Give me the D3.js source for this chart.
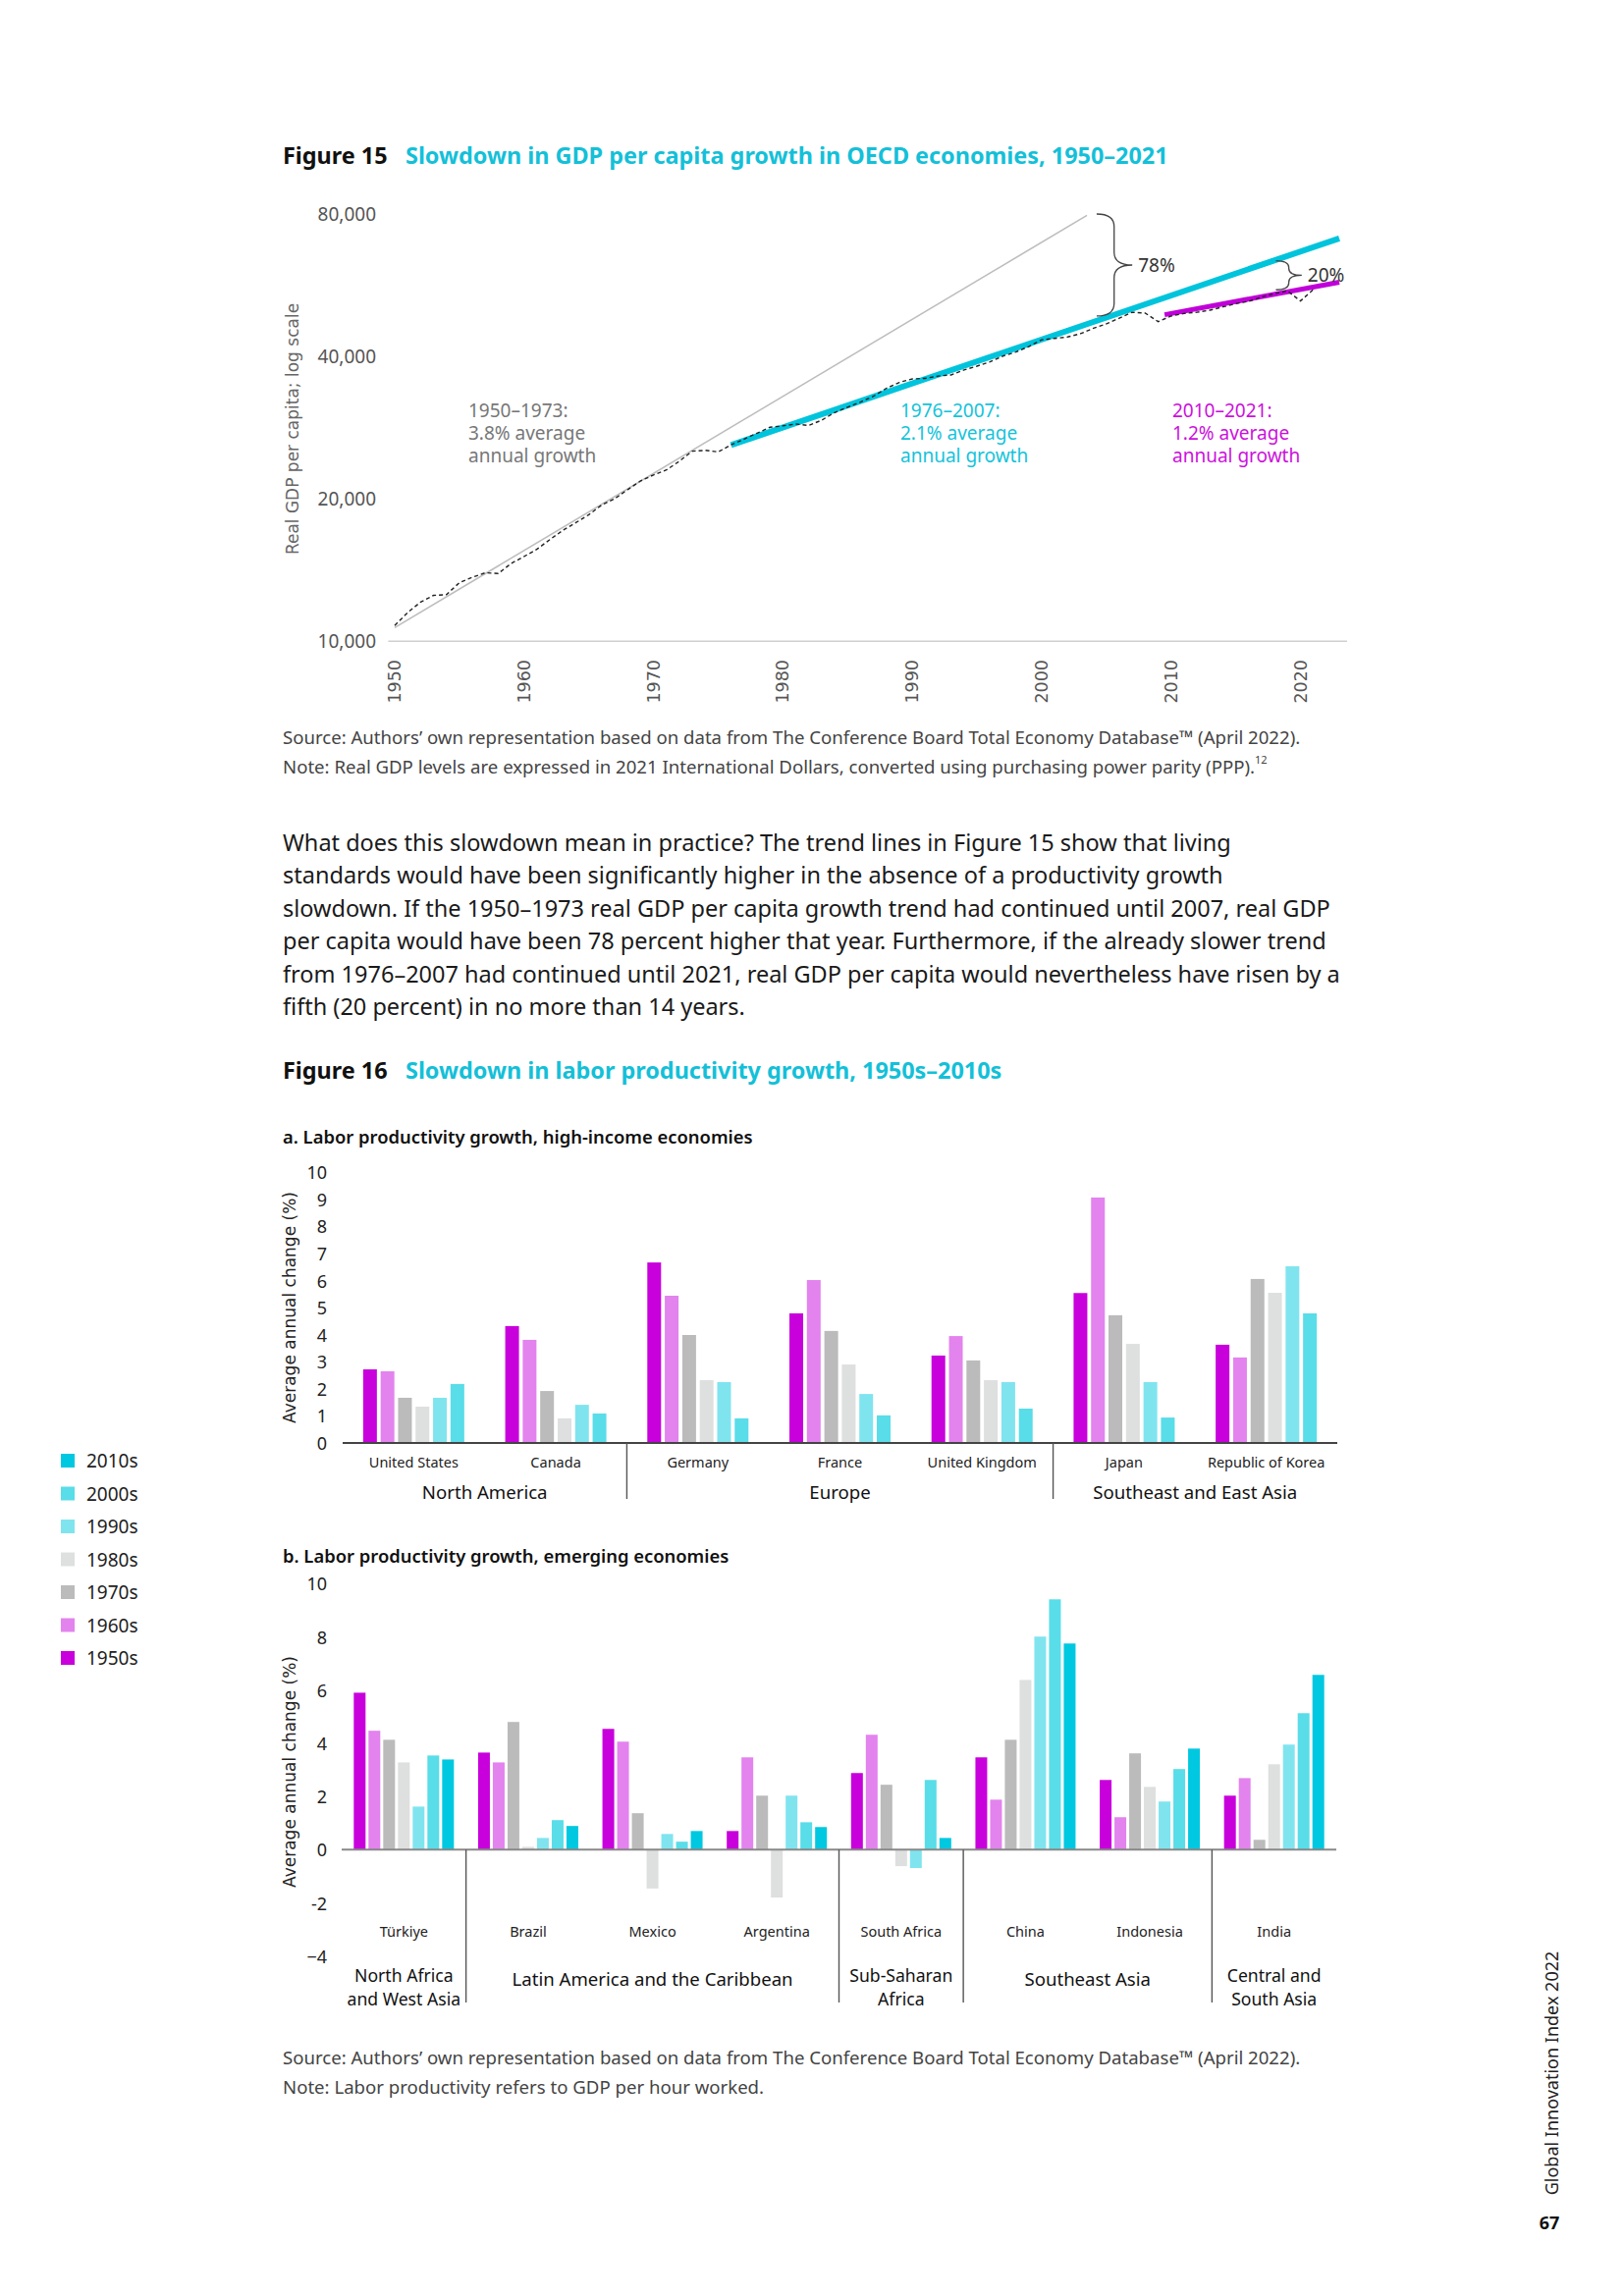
<!DOCTYPE html>
<html><head><meta charset="utf-8">
<script src="https://cdn.jsdelivr.net/npm/d3@7"></script>
<style>
html,body{margin:0;padding:0;background:#fff;}
svg{display:block;font-family:"Noto Sans",sans-serif;}
</style></head>
<body>
<svg id="page" width="1653" height="2339"></svg>
<script>
// ---------------- DATA ----------------
const gdpYears = d3.range(1950, 2022);
const gdpValues = [10800,11500,12100,12500,12550,13300,13650,13950,13900,14600,
  15100,15650,16400,17150,17800,18500,19400,20000,20900,21800,
  22450,23000,24000,25200,25300,25100,26000,26700,27500,28300,
  28500,28750,28550,29300,30400,31200,32000,32900,34200,35200,
  35800,35900,36300,36500,37400,38100,38900,40000,40800,41900,
  43300,43600,43900,44600,45800,46800,48100,49500,49300,47300,
  48600,49200,49500,50000,50800,51600,52200,53300,54200,54900,
  52300,55300];
// trend lines: [startYear, startValue], [endYear, endValue]
const trend5073 = [[1950, 10690], [2003.5, 79300]];
const trend7607 = [[1976, 25960], [2023, 70900]];
const trend1021 = [[2009.5, 48900], [2023, 57300]];
const gdpTicks = [10000, 20000, 40000, 80000];
const yearTicks = [1950,1960,1970,1980,1990,2000,2010,2020];

const decades = ["1950s","1960s","1970s","1980s","1990s","2000s","2010s"];
const decadeColors = ["#C800DC","#E383EE","#BBBBBB","#DEDFDF","#80E4EF","#59DDE8","#00C8E0"];

const highCountries = ["United States","Canada","Germany","France","United Kingdom","Japan","Republic of Korea"];
const high1950s = [2.72,4.32,6.67,4.79,3.23,5.54,3.63];
const high1960s = [2.65,3.81,5.44,6.02,3.95,9.07,3.16];
const high1970s = [1.67,1.92,3.99,4.14,3.05,4.72,6.06];
const high1980s = [1.34,0.91,2.32,2.90,2.32,3.66,5.55];
const high1990s = [1.67,1.41,2.25,1.81,2.25,2.25,6.53];
const high2000s = [2.18,1.09,0.91,1.02,1.27,0.94,4.79];
const highRegions = [[["North America"],["United States","Canada"]],[["Europe"],["Germany","France","United Kingdom"]],[["Southeast and East Asia"],["Japan","Republic of Korea"]]];
const highTicks = [0,1,2,3,4,5,6,7,8,9,10];

const emCountries = ["Türkiye","Brazil","Mexico","Argentina","South Africa","China","Indonesia","India"];
const em1950s = [5.90,3.65,4.54,0.70,2.88,3.47,2.62,2.03];
const em1960s = [4.47,3.28,4.06,3.47,4.32,1.88,1.22,2.69];
const em1970s = [4.13,4.80,1.37,2.03,2.44,4.13,3.62,0.37];
const em1980s = [3.28,0.11,-1.46,-1.80,-0.62,6.38,2.36,3.21];
const em1990s = [1.62,0.44,0.59,2.03,-0.69,8.01,1.81,3.95];
const em2000s = [3.54,1.11,0.30,1.03,2.62,9.41,3.03,5.13];
const em2010s = [3.39,0.89,0.70,0.85,0.44,7.75,3.80,6.57];
const emRegions = [[["North Africa","and West Asia"],["Türkiye"]],[["Latin America and the Caribbean"],["Brazil","Mexico","Argentina"]],[["Sub-Saharan","Africa"],["South Africa"]],[["Southeast Asia"],["China","Indonesia"]],[["Central and","South Asia"],["India"]]];
const emTickValues = [-4,-2,0,2,4,6,8,10];
const emTickLabels = ["−4","-2","0","2","4","6","8","10"];

const bodyLines = [
 "What does this slowdown mean in practice? The trend lines in Figure 15 show that living",
 "standards would have been significantly higher in the absence of a productivity growth",
 "slowdown. If the 1950–1973 real GDP per capita growth trend had continued until 2007, real GDP",
 "per capita would have been 78 percent higher that year. Furthermore, if the already slower trend",
 "from 1976–2007 had continued until 2021, real GDP per capita would nevertheless have risen by a",
 "fifth (20 percent) in no more than 14 years."
];

// ---------------- DRAW ----------------
const svg = d3.select("#page");
svg.append("rect").attr("width",1653).attr("height",2339).attr("fill","#fff");
const CYAN_T = "#13C0D8";

function title(y, fig, text){
  const t = svg.append("text").attr("y",y).attr("dominant-baseline","central");
  t.append("tspan").attr("x",288).attr("font-size",23.4).attr("font-weight",700).attr("fill","#111").text(fig);
  t.append("tspan").attr("x",413).attr("font-size",23.4).attr("font-weight",700).attr("fill",CYAN_T).text(text);
}
title(158, "Figure 15", "Slowdown in GDP per capita growth in OECD economies, 1950–2021");

// ---- Figure 15 line chart
const x = d3.scaleLinear().domain([1950,2020]).range([402,1324.5]);
const y = d3.scaleLog().domain([10000,80000]).range([653.3,217.5]);
const g = svg.append("g");
g.append("line").attr("x1",x(1949.5)).attr("x2",x(2023.6)).attr("y1",y(10000)).attr("y2",y(10000))
  .attr("stroke","#cfcfcf").attr("stroke-width",1.6);
g.selectAll(".ytl").data(gdpTicks).join("text").attr("x",383).attr("y",d=>y(d))
  .attr("text-anchor","end").attr("dominant-baseline","central").attr("font-size",19).attr("fill","#555")
  .text(d=>d3.format(",")(d));
g.selectAll(".xtl").data(yearTicks).join("text")
  .attr("transform",d=>`translate(${x(d)},672) rotate(-90)`)
  .attr("text-anchor","end").attr("dominant-baseline","central")
  .attr("font-family","DejaVu Sans").attr("font-size",17.5).attr("fill","#555").text(d=>d);
g.append("text").attr("transform","translate(298,437) rotate(-90)").attr("text-anchor","middle")
  .attr("dominant-baseline","central").attr("font-family","DejaVu Sans").attr("font-size",17).attr("fill","#666")
  .text("Real GDP per capita; log scale");

const line = d3.line().x(d=>x(d[0])).y(d=>y(d[1]));
g.append("path").attr("d",line(trend5073)).attr("stroke","#bdbdbd").attr("stroke-width",1.6).attr("fill","none");
g.append("path").attr("d",line(trend7607)).attr("stroke","#00C4DC").attr("stroke-width",6).attr("fill","none");
g.append("path").attr("d",line(trend1021)).attr("stroke","#C000D8").attr("stroke-width",5).attr("fill","none");
g.append("path").attr("d",line(gdpYears.map((yr,i)=>[yr,gdpValues[i]])))
  .attr("stroke","#222").attr("stroke-width",1.4).attr("stroke-dasharray","4,3").attr("fill","none");

function annot(xp, lines, color){
  lines.forEach((s,i)=>g.append("text").attr("x",xp).attr("y",418+i*23).attr("dominant-baseline","central")
    .attr("font-size",19).attr("fill",color).text(s));
}
annot(477, ["1950–1973:","3.8% average","annual growth"], "#777");
annot(917, ["1976–2007:","2.1% average","annual growth"], "#14C3DA");
annot(1194, ["2010–2021:","1.2% average","annual growth"], "#CC10DD");

function brace(yrArm, yrMid, yrTip, vTop, vBot, r, label){
  const x0=x(yrArm), xv=x(yrMid), xt=x(yrTip), y0=y(vTop), y1=y(vBot), ym=(y0+y1)/2;
  const p = `M${x0},${y0} Q${xv},${y0} ${xv},${y0+r} L${xv},${ym-r} Q${xv},${ym} ${xt},${ym} Q${xv},${ym} ${xv},${ym+r} L${xv},${y1-r} Q${xv},${y1} ${x0},${y1}`;
  g.append("path").attr("d",p).attr("fill","none").attr("stroke","#444").attr("stroke-width",1.3);
  g.append("text").attr("x",xt+6).attr("y",ym).attr("dominant-baseline","central").attr("font-size",19)
    .attr("fill","#333").text(label);
}
brace(2004.25, 2005.6, 2007.0, 79800, 48600, 13, "78%");
brace(2018.1, 2019.1, 2020.1, 63600, 55200, 7, "20%");

// sources
svg.append("text").attr("x",288).attr("y",750).attr("dominant-baseline","central").attr("font-size",18.6).attr("fill","#444")
  .text("Source: Authors’ own representation based on data from The Conference Board Total Economy Database™ (April 2022).");
const n2 = svg.append("text").attr("x",288).attr("y",780).attr("dominant-baseline","central").attr("font-size",18.6).attr("fill","#444");
n2.append("tspan").text("Note: Real GDP levels are expressed in 2021 International Dollars, converted using purchasing power parity (PPP).");
n2.append("tspan").attr("font-size",11).attr("dy",-7).text("12");

// body
bodyLines.forEach((s,i)=>svg.append("text").attr("x",288).attr("y",858+i*33.4).attr("dominant-baseline","central")
  .attr("font-size",23.5).attr("fill","#1a1a1a").text(s));

// ---- Figure 16
title(1090, "Figure 16", "Slowdown in labor productivity growth, 1950s–2010s");

function panel(opts){
  const {countries, series, decs, yDomain, yRange, ticks, tickLabels, xRange, innerStep, barW, regions, subtitle, subY, countryY, regionY, divBottom, baseColor} = opts;
  const pg = svg.append("g");
  pg.append("text").attr("x",288).attr("y",subY).attr("dominant-baseline","central").attr("font-size",18.4)
    .attr("font-weight",600).attr("fill","#111").text(subtitle);
  const ys = d3.scaleLinear().domain(yDomain).range(yRange);
  const x0 = d3.scaleBand().domain(countries).range(xRange);
  const groupW = innerStep*(decs.length) - (innerStep-barW);
  const pad = (x0.step()-groupW)/x0.step();
  x0.paddingInner(pad).paddingOuter(pad/2);
  const x1 = d3.scaleBand().domain(decs).range([0,x0.bandwidth()]).paddingInner((innerStep-barW)/innerStep);
  pg.selectAll(".tk").data(ticks).join("text").attr("x",333).attr("y",d=>ys(d)).attr("text-anchor","end")
    .attr("dominant-baseline","central").attr("font-size",18).attr("fill","#222").text((d,i)=>tickLabels[i]);
  pg.append("text").attr("transform",`translate(295,${opts.titleY}) rotate(-90)`)
    .attr("text-anchor","middle").attr("dominant-baseline","central").attr("font-family","DejaVu Sans")
    .attr("font-size",17).attr("fill","#222").text("Average annual change (%)");
  const data = [];
  countries.forEach((c,ci)=>decs.forEach((d,di)=>data.push({c, d, di, v: series[di][ci]})));
  pg.selectAll(".bar").data(data).join("rect")
    .attr("x",e=>x0(e.c)+x1(e.d)).attr("width",x1.bandwidth())
    .attr("y",e=>ys(Math.max(0,e.v))).attr("height",e=>Math.abs(ys(e.v)-ys(0)))
    .attr("fill",e=>decadeColors[e.di]);
  pg.append("line").attr("x1",xRange[0]).attr("x2",xRange[1]).attr("y1",ys(0)).attr("y2",ys(0))
    .attr("stroke",baseColor).attr("stroke-width",2);
  pg.selectAll(".cl").data(countries).join("text").attr("x",c=>x0(c)+x0.bandwidth()/2).attr("y",countryY)
    .attr("text-anchor","middle").attr("dominant-baseline","central").attr("font-size",14.5).attr("fill","#222").text(c=>c);
  regions.forEach((r,ri)=>{
    const first = r[1][0], last = r[1][r[1].length-1];
    const left = x0(first) - x0.step()*pad/2, right = x0(last)+x0.bandwidth()+x0.step()*pad/2;
    const two = r[0].length > 1;
    const t = pg.append("text").attr("text-anchor","middle").attr("font-size",two?17.6:18.6).attr("fill","#111")
      .attr("dominant-baseline","central").attr("y",two?regionY-3:regionY);
    r[0].forEach((s,i)=>t.append("tspan").attr("x",(left+right)/2).attr("dy",i===0?0:24).text(s));
    if(ri>0) pg.append("line").attr("x1",left).attr("x2",left).attr("y1",ys(0)).attr("y2",divBottom)
      .attr("stroke","#555").attr("stroke-width",1.4);
  });
}
panel({countries: highCountries, series:[high1950s,high1960s,high1970s,high1980s,high1990s,high2000s],
  decs: decades.slice(0,6), yDomain:[0,10], yRange:[1470,1194.3], ticks: highTicks, tickLabels: highTicks.map(String),
  xRange:[349,1362], innerStep:17.8, barW:14, regions: highRegions,
  subtitle:"a. Labor productivity growth, high-income economies", subY:1157, countryY:1489, regionY:1519, divBottom:1527,
  baseColor:"#444", titleY:1332});
panel({countries: emCountries, series:[em1950s,em1960s,em1970s,em1980s,em1990s,em2000s,em2010s],
  decs: decades, yDomain:[-4,10], yRange:[1992.7,1613.3], ticks: emTickValues, tickLabels: emTickLabels,
  xRange:[348,1361], innerStep:15, barW:12, regions: emRegions,
  subtitle:"b. Labor productivity growth, emerging economies", subY:1584, countryY:1967, regionY:2015, divBottom:2040,
  baseColor:"#888", titleY:1805});

// legend
const legOrder = decades.slice().reverse();
const lg = svg.append("g");
legOrder.forEach((d,i)=>{
  const di = decades.indexOf(d);
  lg.append("rect").attr("x",62).attr("y",1488+i*33.5-7).attr("width",14).attr("height",14).attr("fill",decadeColors[di]);
  lg.append("text").attr("x",88).attr("y",1488+i*33.5).attr("dominant-baseline","central").attr("font-size",19).attr("fill","#222").text(d);
});

// source 2
svg.append("text").attr("x",288).attr("y",2095).attr("dominant-baseline","central").attr("font-size",18.6).attr("fill","#444")
  .text("Source: Authors’ own representation based on data from The Conference Board Total Economy Database™ (April 2022).");
svg.append("text").attr("x",288).attr("y",2125).attr("dominant-baseline","central").attr("font-size",18.6).attr("fill","#444")
  .text("Note: Labor productivity refers to GDP per hour worked.");

// side
svg.append("text").attr("transform","translate(1580,2112) rotate(-90)").attr("text-anchor","middle").attr("dominant-baseline","central")
  .attr("font-size",18).attr("fill","#222").text("Global Innovation Index 2022");
svg.append("text").attr("x",1578).attr("y",2264).attr("text-anchor","middle").attr("dominant-baseline","central")
  .attr("font-size",18).attr("font-weight",700).attr("fill","#111").text("67");
</script>
</body></html>
